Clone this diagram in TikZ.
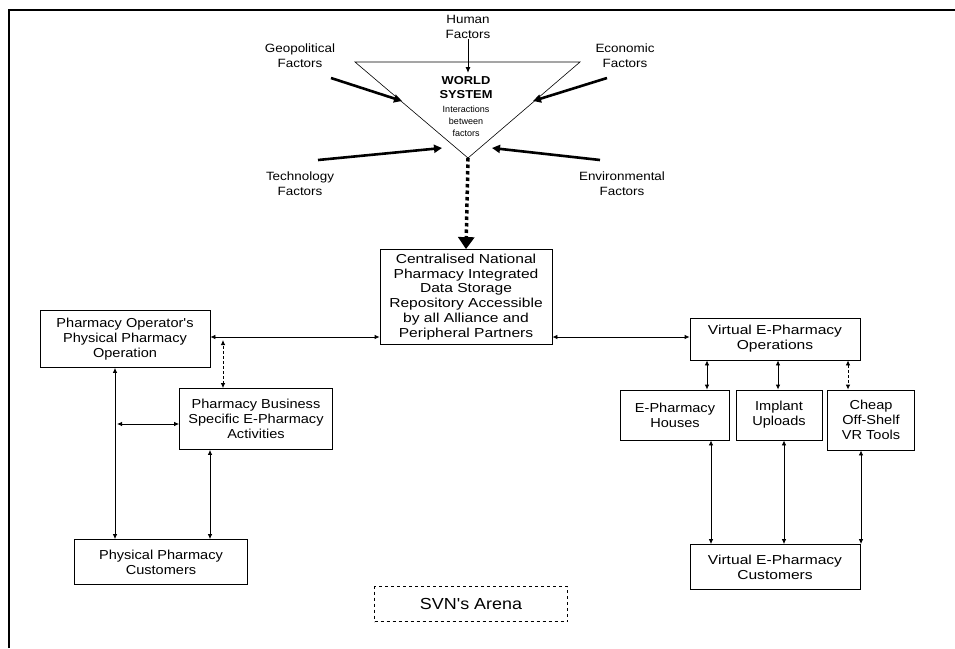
\documentclass[tikz,border=0pt]{standalone}
\usepackage{fontspec}
\setmainfont{Liberation Sans}
\newfontfamily\widesans[FakeStretch=1.12]{Liberation Sans}
\newfontfamily\widersans[FakeStretch=1.2]{Liberation Sans}
\usetikzlibrary{arrows.meta,calc}
\begin{document}
\begin{tikzpicture}[x=1pt,y=-1pt,
  box/.style={draw,line width=0.8pt,align=center,inner sep=0pt,
    font=\widesans\fontsize{13}{14.8}\selectfont},
  bigbox/.style={box,font=\widersans\fontsize{13}{14.8}\selectfont},
  lbl/.style={align=center,inner sep=0pt,font=\widesans\fontsize{12}{15}\selectfont},
  dbl/.style={line width=0.8pt,{Latex[length=5pt,width=4.5pt]}-{Latex[length=5pt,width=4.5pt]}},
  dbldash/.style={dbl,dash pattern=on 3pt off 2pt},
  force/.style={line width=2.6pt,-{Triangle[length=8pt,width=8pt]}},
  feed/.style={line width=3.5pt,dash pattern=on 3.5pt off 3pt,
    -{Triangle[length=12pt,width=16pt]}}
]
\useasboundingbox (0,0) rectangle (955,648);
% page frame
\draw[line width=1.3pt] (9,648) -- (9,10) -- (955,10);

% ---------- world system ----------
\coordinate (tl) at (355,62);
\coordinate (tr) at (580,62);
\coordinate (apex) at (468,158);
\draw[line width=0.6pt] (tl) -- (tr) -- (apex) -- cycle;

\node[lbl] (human) at (468,27) {Human\\Factors};
\node[lbl] (geo) at (300,56) {Geopolitical\\Factors};
\node[lbl] (eco) at (625,56) {Economic\\Factors};
\node[lbl] (tech) at (300,184) {Technology\\Factors};
\node[lbl] (env) at (622,184) {Environmental\\Factors};

\node[align=center,inner sep=0pt,font=\widesans\fontsize{11.5}{14}\selectfont\bfseries] (world) at (466,88) {WORLD\\SYSTEM};
\node[align=center,inner sep=0pt,font=\fontsize{9}{12}\selectfont] (inter) at (466,121) {Interactions\\between\\factors};

\coordinate (hum-end) at (468,73);
\coordinate (geo-start) at (331,78);
\coordinate (geo-end) at (402,101);
\coordinate (eco-start) at (607,78);
\coordinate (eco-end) at (533,101);
\coordinate (tech-start) at (318,160);
\coordinate (tech-end) at (442,148);
\coordinate (env-start) at (600,160);
\coordinate (env-end) at (492,148);

\draw[line width=1pt,-{Latex[length=6pt,width=5pt]}] (human.south) -- (hum-end);
\draw[force] (geo-start) -- (geo-end);
\draw[force] (eco-start) -- (eco-end);
\draw[force] (tech-start) -- (tech-end);
\draw[force] (env-start) -- (env-end);

% ---------- central repository ----------
\node[bigbox,minimum width=172pt,minimum height=95pt] (central) at (466,297)
  {Centralised National\\Pharmacy Integrated\\Data Storage\\Repository Accessible\\by all Alliance and\\Peripheral Partners};
\draw[feed] (apex) -- (central.north);

% ---------- physical side ----------
\node[box,minimum width=170pt,minimum height=57pt] (op) at (125,339)
  {Pharmacy Operator's\\Physical Pharmacy\\Operation};
\node[box,minimum width=153pt,minimum height=61pt] (bus) at (256,419)
  {Pharmacy Business\\Specific E-Pharmacy\\Activities};
\node[box,minimum width=173pt,minimum height=45pt] (phys) at (161,562)
  {Physical Pharmacy\\Customers};

\coordinate (rowA) at (0,337);
\coordinate (opcol) at (115,0);
\coordinate (buscol) at (210,0);
\coordinate (linkcol) at (223,0);
\coordinate (midrow) at (0,424);

\draw[dbl] (central.west |- rowA) -- (op.east |- rowA);
\draw[dbldash] (bus.north -| linkcol) -- ($(linkcol |- rowA)+(0,3)$);
\draw[dbl] (op.south -| opcol) -- (phys.north -| opcol);
\draw[dbl] ($(opcol |- midrow)+(2,0)$) -- (bus.west |- midrow);
\draw[dbl] (bus.south -| buscol) -- (phys.north -| buscol);

% ---------- virtual side ----------
\node[bigbox,minimum width=170pt,minimum height=42pt] (vops) at (775,339)
  {Virtual E-Pharmacy\\Operations};
\node[box,minimum width=109pt,minimum height=50pt] (houses) at (675,415)
  {E-Pharmacy\\Houses};
\node[box,minimum width=86pt,minimum height=50pt] (implant) at (779,415)
  {Implant\\Uploads};
\node[box,minimum width=87pt,minimum height=60pt] (cheap) at (871,420)
  {Cheap\\Off-Shelf\\VR Tools};
\node[bigbox,minimum width=170pt,minimum height=45pt] (vcust) at (775,567)
  {Virtual E-Pharmacy\\Customers};

\draw[dbl] (central.east |- rowA) -- (vops.west |- rowA);

\coordinate (c1) at (707,0);
\coordinate (c2) at (778,0);
\coordinate (c3) at (848,0);
\coordinate (d1) at (711,0);
\coordinate (d2) at (784,0);
\coordinate (d3) at (861,0);

\draw[dbl] (vops.south -| c1) -- (houses.north -| c1);
\draw[dbl] (vops.south -| c2) -- (implant.north -| c2);
\draw[dbldash] (vops.south -| c3) -- (cheap.north -| c3);
\draw[dbl] (houses.south -| d1) -- (vcust.north -| d1);
\draw[dbl] (implant.south -| d2) -- (vcust.north -| d2);
\draw[dbl] (cheap.south -| d3) -- (vcust.north -| d3);

% ---------- arena label ----------
\node[draw,dashed,line width=0.8pt,minimum width=193pt,minimum height=35pt,
  inner sep=0pt,font=\widesans\fontsize{16}{19}\selectfont] (arena) at (471,604) {SVN's Arena};
\end{tikzpicture}
\end{document}
